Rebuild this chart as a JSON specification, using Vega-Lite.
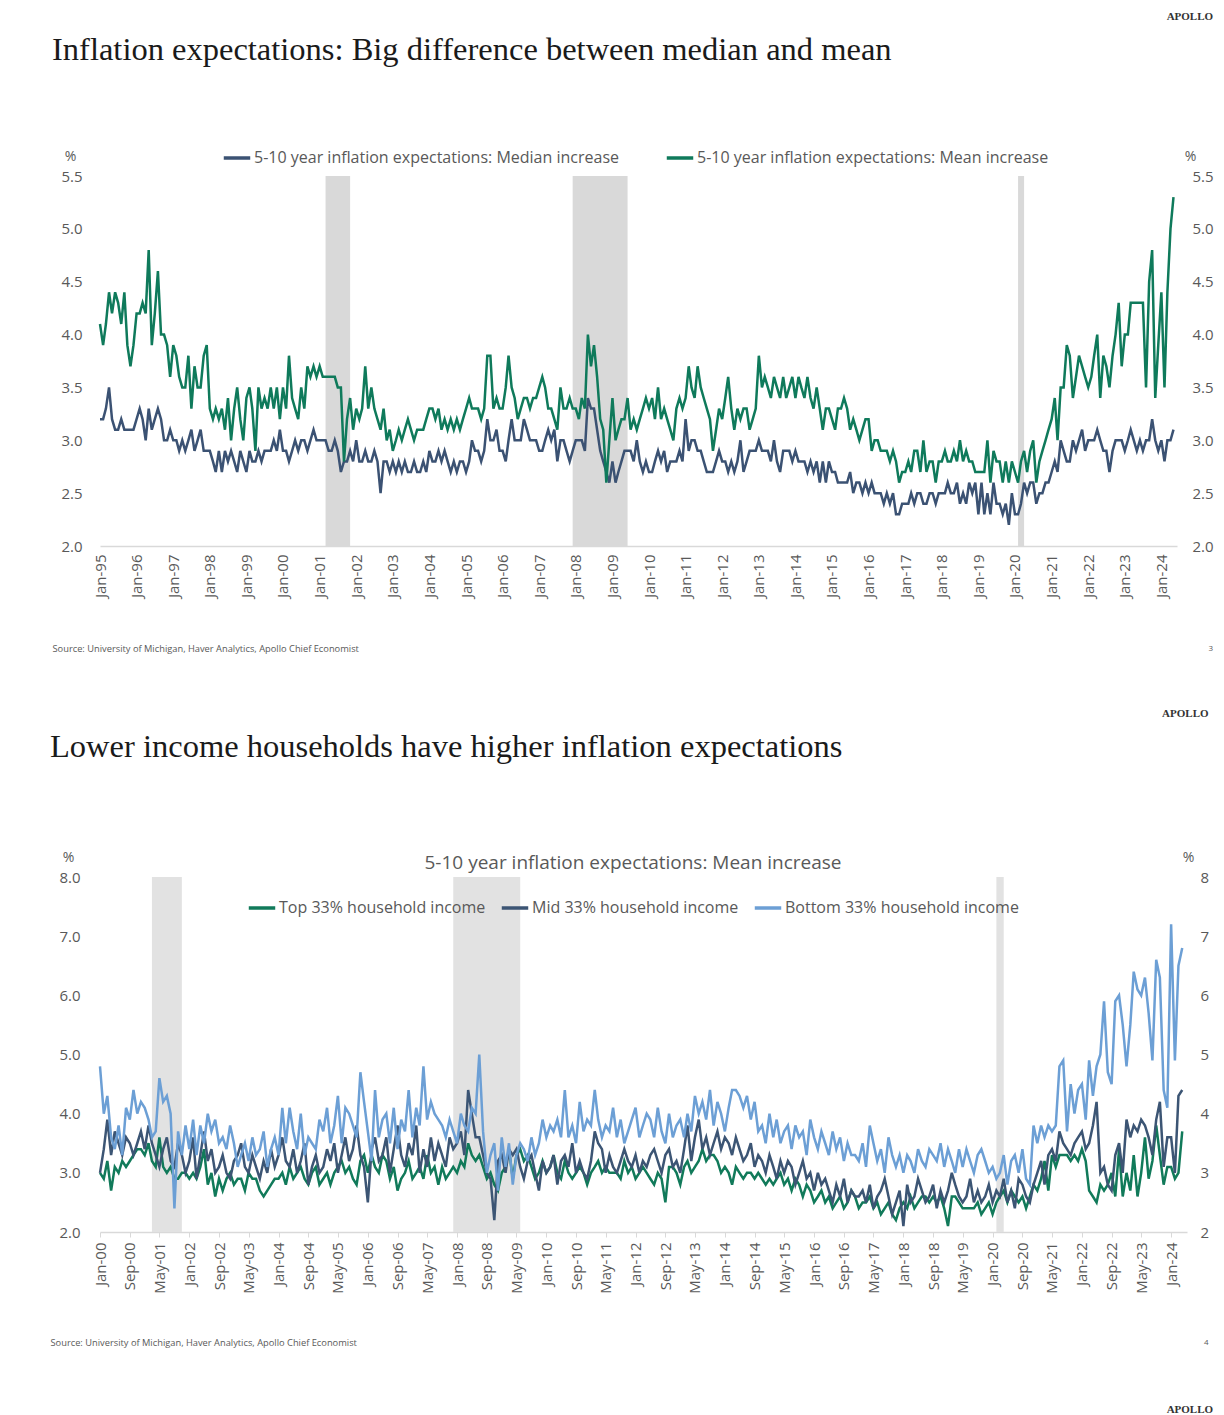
{
"$schema":"https://vega.github.io/schema/vega-lite/v6.json",
"background":"white",
"padding":{"left":50,"right":8,"top":10,"bottom":0},
"config":{
 "view":{"stroke":null},
 "font":"Open Sans",
 "axis":{"grid":false,"domain":false,"ticks":false,"tickSize":0,"labelFont":"Open Sans","labelColor":"#595959","labelFontSize":15,"titleFont":"Open Sans","titleFontWeight":"normal","titleColor":"#595959","titleFontSize":14},
 "legend":{"labelFont":"Open Sans","labelFontSize":16,"labelColor":"#595959","labelLimit":600,"symbolType":"stroke","symbolStrokeWidth":3.5,"symbolSize":700,"labelOffset":2,"orient":"none","direction":"horizontal"}
},
"resolve":{"scale":{"color":"independent","x":"independent","y":"independent"},"legend":{"color":"independent"},"axis":{"x":"independent","y":"independent"}},
"title":{"text":"APOLLO","orient":"bottom","anchor":"end","font":"Liberation Serif","fontSize":11,"fontWeight":"bold","color":"#333333","offset":57},
"datasets":{
"rec":[{"s":"2001-03","e":"2001-11"},{"s":"2007-12","e":"2009-06"},{"s":"2020-02","e":"2020-04"}],
"p1":[
{"d":"1995-01","a":3.2,"b":4.1},{"d":"1995-02","a":3.2,"b":3.9},{"d":"1995-03","a":3.3,"b":4.1},{"d":"1995-04","a":3.5,"b":4.4},{"d":"1995-05","a":3.2,"b":4.2},{"d":"1995-06","a":3.1,"b":4.4},{"d":"1995-07","a":3.1,"b":4.3},{"d":"1995-08","a":3.2,"b":4.1},{"d":"1995-09","a":3.1,"b":4.4},{"d":"1995-10","a":3.1,"b":3.9},{"d":"1995-11","a":3.1,"b":3.7},{"d":"1995-12","a":3.1,"b":3.9},
{"d":"1996-01","a":3.2,"b":4.2},{"d":"1996-02","a":3.3,"b":4.2},{"d":"1996-03","a":3.2,"b":4.3},{"d":"1996-04","a":3.0,"b":4.2},{"d":"1996-05","a":3.3,"b":4.8},{"d":"1996-06","a":3.1,"b":3.9},{"d":"1996-07","a":3.2,"b":4.2},{"d":"1996-08","a":3.3,"b":4.6},{"d":"1996-09","a":3.2,"b":4.0},{"d":"1996-10","a":3.0,"b":4.0},{"d":"1996-11","a":3.0,"b":3.9},{"d":"1996-12","a":3.1,"b":3.6},
{"d":"1997-01","a":3.0,"b":3.9},{"d":"1997-02","a":3.0,"b":3.8},{"d":"1997-03","a":2.9,"b":3.6},{"d":"1997-04","a":3.0,"b":3.5},{"d":"1997-05","a":2.9,"b":3.5},{"d":"1997-06","a":3.0,"b":3.8},{"d":"1997-07","a":3.1,"b":3.3},{"d":"1997-08","a":2.9,"b":3.7},{"d":"1997-09","a":3.0,"b":3.5},{"d":"1997-10","a":3.1,"b":3.5},{"d":"1997-11","a":2.9,"b":3.8},{"d":"1997-12","a":2.9,"b":3.9},
{"d":"1998-01","a":2.9,"b":3.3},{"d":"1998-02","a":2.8,"b":3.2},{"d":"1998-03","a":2.7,"b":3.3},{"d":"1998-04","a":2.9,"b":3.2},{"d":"1998-05","a":2.7,"b":3.3},{"d":"1998-06","a":2.9,"b":3.1},{"d":"1998-07","a":2.8,"b":3.4},{"d":"1998-08","a":2.9,"b":3.0},{"d":"1998-09","a":2.8,"b":3.3},{"d":"1998-10","a":2.7,"b":3.5},{"d":"1998-11","a":2.9,"b":3.2},{"d":"1998-12","a":2.8,"b":3.0},
{"d":"1999-01","a":2.7,"b":3.4},{"d":"1999-02","a":2.9,"b":3.5},{"d":"1999-03","a":2.8,"b":3.3},{"d":"1999-04","a":2.8,"b":2.9},{"d":"1999-05","a":2.9,"b":3.5},{"d":"1999-06","a":2.8,"b":3.3},{"d":"1999-07","a":2.9,"b":3.4},{"d":"1999-08","a":2.9,"b":3.3},{"d":"1999-09","a":2.9,"b":3.5},{"d":"1999-10","a":3.0,"b":3.3},{"d":"1999-11","a":2.9,"b":3.5},{"d":"1999-12","a":3.1,"b":3.2},
{"d":"2000-01","a":2.9,"b":3.5},{"d":"2000-02","a":2.9,"b":3.3},{"d":"2000-03","a":2.8,"b":3.8},{"d":"2000-04","a":2.9,"b":3.4},{"d":"2000-05","a":3.0,"b":3.3},{"d":"2000-06","a":2.9,"b":3.2},{"d":"2000-07","a":3.0,"b":3.5},{"d":"2000-08","a":3.0,"b":3.3},{"d":"2000-09","a":2.9,"b":3.7},{"d":"2000-10","a":3.0,"b":3.6},{"d":"2000-11","a":3.1,"b":3.7},{"d":"2000-12","a":3.0,"b":3.6},
{"d":"2001-01","a":3.0,"b":3.7},{"d":"2001-02","a":3.0,"b":3.6},{"d":"2001-03","a":3.0,"b":3.6},{"d":"2001-04","a":2.9,"b":3.6},{"d":"2001-05","a":2.9,"b":3.6},{"d":"2001-06","a":3.0,"b":3.6},{"d":"2001-07","a":2.9,"b":3.5},{"d":"2001-08","a":2.7,"b":3.5},{"d":"2001-09","a":2.8,"b":2.8},{"d":"2001-10","a":2.8,"b":3.2},{"d":"2001-11","a":2.9,"b":3.4},{"d":"2001-12","a":2.8,"b":3.1},
{"d":"2002-01","a":3.0,"b":3.3},{"d":"2002-02","a":2.8,"b":3.2},{"d":"2002-03","a":2.8,"b":3.3},{"d":"2002-04","a":2.9,"b":3.7},{"d":"2002-05","a":2.8,"b":3.3},{"d":"2002-06","a":2.8,"b":3.5},{"d":"2002-07","a":2.9,"b":3.3},{"d":"2002-08","a":2.8,"b":3.2},{"d":"2002-09","a":2.5,"b":3.1},{"d":"2002-10","a":2.8,"b":3.3},{"d":"2002-11","a":2.8,"b":3.0},{"d":"2002-12","a":2.7,"b":3.1},
{"d":"2003-01","a":2.8,"b":2.9},{"d":"2003-02","a":2.7,"b":3.0},{"d":"2003-03","a":2.8,"b":3.1},{"d":"2003-04","a":2.7,"b":3.0},{"d":"2003-05","a":2.8,"b":3.1},{"d":"2003-06","a":2.7,"b":3.2},{"d":"2003-07","a":2.7,"b":3.1},{"d":"2003-08","a":2.8,"b":3.0},{"d":"2003-09","a":2.7,"b":3.1},{"d":"2003-10","a":2.7,"b":3.1},{"d":"2003-11","a":2.8,"b":3.1},{"d":"2003-12","a":2.7,"b":3.2},
{"d":"2004-01","a":2.9,"b":3.3},{"d":"2004-02","a":2.8,"b":3.3},{"d":"2004-03","a":2.8,"b":3.2},{"d":"2004-04","a":2.9,"b":3.3},{"d":"2004-05","a":2.8,"b":3.1},{"d":"2004-06","a":2.9,"b":3.2},{"d":"2004-07","a":2.8,"b":3.1},{"d":"2004-08","a":2.7,"b":3.2},{"d":"2004-09","a":2.8,"b":3.1},{"d":"2004-10","a":2.7,"b":3.2},{"d":"2004-11","a":2.8,"b":3.1},{"d":"2004-12","a":2.8,"b":3.2},
{"d":"2005-01","a":2.7,"b":3.3},{"d":"2005-02","a":2.8,"b":3.4},{"d":"2005-03","a":3.0,"b":3.3},{"d":"2005-04","a":2.9,"b":3.3},{"d":"2005-05","a":2.9,"b":3.3},{"d":"2005-06","a":2.8,"b":3.2},{"d":"2005-07","a":2.9,"b":3.3},{"d":"2005-08","a":3.2,"b":3.8},{"d":"2005-09","a":3.0,"b":3.8},{"d":"2005-10","a":3.0,"b":3.3},{"d":"2005-11","a":3.1,"b":3.4},{"d":"2005-12","a":2.9,"b":3.3},
{"d":"2006-01","a":2.9,"b":3.3},{"d":"2006-02","a":2.8,"b":3.5},{"d":"2006-03","a":3.0,"b":3.8},{"d":"2006-04","a":3.2,"b":3.5},{"d":"2006-05","a":3.0,"b":3.4},{"d":"2006-06","a":3.0,"b":3.2},{"d":"2006-07","a":3.0,"b":3.3},{"d":"2006-08","a":3.2,"b":3.4},{"d":"2006-09","a":3.1,"b":3.4},{"d":"2006-10","a":3.0,"b":3.3},{"d":"2006-11","a":3.0,"b":3.4},{"d":"2006-12","a":3.0,"b":3.4},
{"d":"2007-01","a":2.9,"b":3.5},{"d":"2007-02","a":2.9,"b":3.6},{"d":"2007-03","a":3.0,"b":3.5},{"d":"2007-04","a":3.1,"b":3.3},{"d":"2007-05","a":3.0,"b":3.3},{"d":"2007-06","a":3.1,"b":3.2},{"d":"2007-07","a":2.8,"b":3.1},{"d":"2007-08","a":3.0,"b":3.5},{"d":"2007-09","a":3.0,"b":3.3},{"d":"2007-10","a":2.9,"b":3.3},{"d":"2007-11","a":2.8,"b":3.4},{"d":"2007-12","a":2.9,"b":3.3},
{"d":"2008-01","a":3.0,"b":3.3},{"d":"2008-02","a":3.0,"b":3.2},{"d":"2008-03","a":3.0,"b":3.4},{"d":"2008-04","a":2.9,"b":3.3},{"d":"2008-05","a":3.4,"b":4.0},{"d":"2008-06","a":3.3,"b":3.7},{"d":"2008-07","a":3.3,"b":3.9},{"d":"2008-08","a":3.1,"b":3.6},{"d":"2008-09","a":2.9,"b":3.2},{"d":"2008-10","a":2.8,"b":3.1},{"d":"2008-11","a":2.7,"b":2.6},{"d":"2008-12","a":2.6,"b":3.0},
{"d":"2009-01","a":2.8,"b":3.4},{"d":"2009-02","a":2.6,"b":3.0},{"d":"2009-03","a":2.7,"b":3.1},{"d":"2009-04","a":2.8,"b":3.2},{"d":"2009-05","a":2.9,"b":3.2},{"d":"2009-06","a":2.9,"b":3.4},{"d":"2009-07","a":2.9,"b":3.1},{"d":"2009-08","a":2.8,"b":3.2},{"d":"2009-09","a":3.0,"b":3.1},{"d":"2009-10","a":2.8,"b":3.2},{"d":"2009-11","a":2.7,"b":3.3},{"d":"2009-12","a":2.8,"b":3.4},
{"d":"2010-01","a":2.7,"b":3.3},{"d":"2010-02","a":2.7,"b":3.4},{"d":"2010-03","a":2.8,"b":3.2},{"d":"2010-04","a":2.9,"b":3.5},{"d":"2010-05","a":2.8,"b":3.2},{"d":"2010-06","a":2.9,"b":3.3},{"d":"2010-07","a":2.7,"b":3.2},{"d":"2010-08","a":2.8,"b":3.1},{"d":"2010-09","a":2.8,"b":3.0},{"d":"2010-10","a":2.8,"b":3.3},{"d":"2010-11","a":2.9,"b":3.4},{"d":"2010-12","a":2.8,"b":3.3},
{"d":"2011-01","a":3.2,"b":3.4},{"d":"2011-02","a":2.9,"b":3.7},{"d":"2011-03","a":3.0,"b":3.5},{"d":"2011-04","a":3.0,"b":3.4},{"d":"2011-05","a":2.9,"b":3.7},{"d":"2011-06","a":2.9,"b":3.5},{"d":"2011-07","a":2.8,"b":3.4},{"d":"2011-08","a":2.7,"b":3.3},{"d":"2011-09","a":2.7,"b":3.2},{"d":"2011-10","a":2.7,"b":2.9},{"d":"2011-11","a":2.8,"b":3.1},{"d":"2011-12","a":2.9,"b":3.3},
{"d":"2012-01","a":2.8,"b":3.2},{"d":"2012-02","a":2.8,"b":3.4},{"d":"2012-03","a":2.7,"b":3.6},{"d":"2012-04","a":2.8,"b":3.3},{"d":"2012-05","a":2.7,"b":3.1},{"d":"2012-06","a":2.8,"b":3.3},{"d":"2012-07","a":3.0,"b":3.2},{"d":"2012-08","a":2.7,"b":3.3},{"d":"2012-09","a":2.8,"b":3.3},{"d":"2012-10","a":2.9,"b":3.1},{"d":"2012-11","a":2.9,"b":3.2},{"d":"2012-12","a":2.9,"b":3.3},
{"d":"2013-01","a":3.0,"b":3.8},{"d":"2013-02","a":2.9,"b":3.5},{"d":"2013-03","a":2.9,"b":3.6},{"d":"2013-04","a":2.9,"b":3.5},{"d":"2013-05","a":2.8,"b":3.4},{"d":"2013-06","a":3.0,"b":3.6},{"d":"2013-07","a":2.8,"b":3.5},{"d":"2013-08","a":2.7,"b":3.4},{"d":"2013-09","a":2.9,"b":3.6},{"d":"2013-10","a":2.9,"b":3.4},{"d":"2013-11","a":2.9,"b":3.5},{"d":"2013-12","a":2.8,"b":3.6},
{"d":"2014-01","a":2.9,"b":3.4},{"d":"2014-02","a":2.8,"b":3.6},{"d":"2014-03","a":2.8,"b":3.5},{"d":"2014-04","a":2.8,"b":3.4},{"d":"2014-05","a":2.7,"b":3.6},{"d":"2014-06","a":2.8,"b":3.4},{"d":"2014-07","a":2.7,"b":3.3},{"d":"2014-08","a":2.8,"b":3.5},{"d":"2014-09","a":2.6,"b":3.3},{"d":"2014-10","a":2.8,"b":3.1},{"d":"2014-11","a":2.6,"b":3.3},{"d":"2014-12","a":2.8,"b":3.3},
{"d":"2015-01","a":2.7,"b":3.2},{"d":"2015-02","a":2.7,"b":3.1},{"d":"2015-03","a":2.6,"b":3.3},{"d":"2015-04","a":2.6,"b":3.3},{"d":"2015-05","a":2.6,"b":3.4},{"d":"2015-06","a":2.6,"b":3.3},{"d":"2015-07","a":2.7,"b":3.1},{"d":"2015-08","a":2.5,"b":3.2},{"d":"2015-09","a":2.6,"b":3.1},{"d":"2015-10","a":2.6,"b":3.0},{"d":"2015-11","a":2.5,"b":3.1},{"d":"2015-12","a":2.6,"b":3.2},
{"d":"2016-01","a":2.5,"b":3.2},{"d":"2016-02","a":2.6,"b":2.9},{"d":"2016-03","a":2.5,"b":3.0},{"d":"2016-04","a":2.5,"b":3.0},{"d":"2016-05","a":2.5,"b":2.9},{"d":"2016-06","a":2.4,"b":2.9},{"d":"2016-07","a":2.5,"b":2.9},{"d":"2016-08","a":2.4,"b":2.8},{"d":"2016-09","a":2.5,"b":2.9},{"d":"2016-10","a":2.3,"b":2.8},{"d":"2016-11","a":2.3,"b":2.6},{"d":"2016-12","a":2.4,"b":2.7},
{"d":"2017-01","a":2.4,"b":2.7},{"d":"2017-02","a":2.4,"b":2.8},{"d":"2017-03","a":2.5,"b":2.7},{"d":"2017-04","a":2.4,"b":2.9},{"d":"2017-05","a":2.5,"b":2.9},{"d":"2017-06","a":2.5,"b":2.7},{"d":"2017-07","a":2.4,"b":3.0},{"d":"2017-08","a":2.4,"b":2.7},{"d":"2017-09","a":2.5,"b":2.8},{"d":"2017-10","a":2.5,"b":2.8},{"d":"2017-11","a":2.4,"b":2.6},{"d":"2017-12","a":2.5,"b":2.8},
{"d":"2018-01","a":2.5,"b":2.8},{"d":"2018-02","a":2.5,"b":2.9},{"d":"2018-03","a":2.6,"b":2.8},{"d":"2018-04","a":2.5,"b":2.8},{"d":"2018-05","a":2.5,"b":2.9},{"d":"2018-06","a":2.6,"b":2.8},{"d":"2018-07","a":2.4,"b":3.0},{"d":"2018-08","a":2.5,"b":2.8},{"d":"2018-09","a":2.4,"b":2.9},{"d":"2018-10","a":2.6,"b":2.8},{"d":"2018-11","a":2.5,"b":2.8},{"d":"2018-12","a":2.6,"b":2.7},
{"d":"2019-01","a":2.3,"b":2.7},{"d":"2019-02","a":2.6,"b":2.7},{"d":"2019-03","a":2.3,"b":2.7},{"d":"2019-04","a":2.5,"b":3.0},{"d":"2019-05","a":2.3,"b":2.6},{"d":"2019-06","a":2.6,"b":2.9},{"d":"2019-07","a":2.4,"b":2.8},{"d":"2019-08","a":2.4,"b":2.8},{"d":"2019-09","a":2.3,"b":2.6},{"d":"2019-10","a":2.4,"b":2.8},{"d":"2019-11","a":2.2,"b":2.6},{"d":"2019-12","a":2.5,"b":2.8},
{"d":"2020-01","a":2.3,"b":2.7},{"d":"2020-02","a":2.3,"b":2.6},{"d":"2020-03","a":2.4,"b":2.8},{"d":"2020-04","a":2.6,"b":2.9},{"d":"2020-05","a":2.5,"b":2.7},{"d":"2020-06","a":2.6,"b":2.9},{"d":"2020-07","a":2.6,"b":3.0},{"d":"2020-08","a":2.4,"b":2.6},{"d":"2020-09","a":2.5,"b":2.8},{"d":"2020-10","a":2.5,"b":2.9},{"d":"2020-11","a":2.6,"b":3.0},{"d":"2020-12","a":2.6,"b":3.1},
{"d":"2021-01","a":2.7,"b":3.2},{"d":"2021-02","a":2.8,"b":3.4},{"d":"2021-03","a":2.7,"b":3.0},{"d":"2021-04","a":3.0,"b":3.5},{"d":"2021-05","a":2.9,"b":3.5},{"d":"2021-06","a":2.8,"b":3.9},{"d":"2021-07","a":2.8,"b":3.8},{"d":"2021-08","a":3.0,"b":3.4},{"d":"2021-09","a":2.9,"b":3.6},{"d":"2021-10","a":3.0,"b":3.8},{"d":"2021-11","a":3.1,"b":3.7},{"d":"2021-12","a":2.9,"b":3.6},
{"d":"2022-01","a":3.0,"b":3.5},{"d":"2022-02","a":3.0,"b":3.6},{"d":"2022-03","a":3.0,"b":3.8},{"d":"2022-04","a":3.1,"b":4.0},{"d":"2022-05","a":3.0,"b":3.4},{"d":"2022-06","a":2.9,"b":3.8},{"d":"2022-07","a":2.9,"b":3.7},{"d":"2022-08","a":2.7,"b":3.5},{"d":"2022-09","a":2.9,"b":3.8},{"d":"2022-10","a":3.0,"b":4.0},{"d":"2022-11","a":3.0,"b":4.3},{"d":"2022-12","a":3.0,"b":3.7},
{"d":"2023-01","a":2.9,"b":4.0},{"d":"2023-02","a":3.0,"b":4.0},{"d":"2023-03","a":3.1,"b":4.3},{"d":"2023-04","a":3.0,"b":4.3},{"d":"2023-05","a":2.9,"b":4.3},{"d":"2023-06","a":3.0,"b":4.3},{"d":"2023-07","a":2.9,"b":4.3},{"d":"2023-08","a":3.0,"b":3.5},{"d":"2023-09","a":3.0,"b":4.5},{"d":"2023-10","a":3.2,"b":4.8},{"d":"2023-11","a":3.0,"b":3.4},{"d":"2023-12","a":2.9,"b":3.9},
{"d":"2024-01","a":3.0,"b":4.4},{"d":"2024-02","a":2.8,"b":3.5},{"d":"2024-03","a":3.0,"b":4.4},{"d":"2024-04","a":3.0,"b":5.0},{"d":"2024-05","a":3.1,"b":5.3}
],
"p2":[
{"d":"2000-01","t":3.0,"m":3.0,"b":4.8},{"d":"2000-02","t":2.9,"m":3.4,"b":4.0},{"d":"2000-03","t":3.2,"m":3.9,"b":4.3},{"d":"2000-04","t":2.7,"m":3.3,"b":3.6},{"d":"2000-05","t":3.1,"m":3.7,"b":3.4},{"d":"2000-06","t":3.0,"m":3.5,"b":3.8},{"d":"2000-07","t":3.2,"m":3.3,"b":3.3},{"d":"2000-08","t":3.1,"m":3.6,"b":4.1},{"d":"2000-09","t":3.2,"m":3.5,"b":3.9},{"d":"2000-10","t":3.3,"m":3.3,"b":4.4},{"d":"2000-11","t":3.4,"m":3.5,"b":4.0},{"d":"2000-12","t":3.4,"m":3.7,"b":4.2},
{"d":"2001-01","t":3.3,"m":3.4,"b":4.1},{"d":"2001-02","t":3.5,"m":3.8,"b":3.9},{"d":"2001-03","t":3.2,"m":3.5,"b":3.6},{"d":"2001-04","t":3.1,"m":3.3,"b":3.7},{"d":"2001-05","t":3.6,"m":3.1,"b":4.6},{"d":"2001-06","t":3.1,"m":3.4,"b":4.2},{"d":"2001-07","t":3.0,"m":3.6,"b":4.3},{"d":"2001-08","t":3.1,"m":3.2,"b":4.0},{"d":"2001-09","t":2.9,"m":3.1,"b":2.4},{"d":"2001-10","t":2.9,"m":3.5,"b":3.7},{"d":"2001-11","t":3.0,"m":3.3,"b":3.3},{"d":"2001-12","t":3.0,"m":3.0,"b":3.8},
{"d":"2002-01","t":2.9,"m":3.2,"b":3.4},{"d":"2002-02","t":3.0,"m":3.6,"b":3.9},{"d":"2002-03","t":2.9,"m":2.9,"b":3.3},{"d":"2002-04","t":3.1,"m":3.3,"b":3.8},{"d":"2002-05","t":3.4,"m":3.7,"b":3.5},{"d":"2002-06","t":2.8,"m":3.2,"b":4.0},{"d":"2002-07","t":3.0,"m":3.4,"b":3.7},{"d":"2002-08","t":2.6,"m":3.0,"b":3.9},{"d":"2002-09","t":2.9,"m":3.1,"b":3.5},{"d":"2002-10","t":2.7,"m":3.3,"b":3.6},{"d":"2002-11","t":2.9,"m":3.0,"b":3.4},{"d":"2002-12","t":3.0,"m":2.9,"b":3.8},
{"d":"2003-01","t":2.8,"m":3.2,"b":3.5},{"d":"2003-02","t":2.9,"m":3.3,"b":3.1},{"d":"2003-03","t":2.9,"m":3.5,"b":3.3},{"d":"2003-04","t":2.7,"m":3.1,"b":3.5},{"d":"2003-05","t":3.0,"m":3.0,"b":3.2},{"d":"2003-06","t":2.9,"m":3.3,"b":3.6},{"d":"2003-07","t":2.9,"m":3.1,"b":3.3},{"d":"2003-08","t":2.7,"m":2.9,"b":3.4},{"d":"2003-09","t":2.6,"m":3.2,"b":3.7},{"d":"2003-10","t":2.7,"m":3.0,"b":3.1},{"d":"2003-11","t":2.8,"m":3.4,"b":3.4},{"d":"2003-12","t":2.9,"m":3.1,"b":3.6},
{"d":"2004-01","t":2.9,"m":3.3,"b":3.3},{"d":"2004-02","t":3.0,"m":3.6,"b":4.1},{"d":"2004-03","t":2.8,"m":3.2,"b":3.5},{"d":"2004-04","t":3.1,"m":3.1,"b":4.1},{"d":"2004-05","t":2.9,"m":3.4,"b":3.7},{"d":"2004-06","t":3.0,"m":3.0,"b":3.4},{"d":"2004-07","t":3.1,"m":3.2,"b":4.0},{"d":"2004-08","t":2.9,"m":3.5,"b":3.3},{"d":"2004-09","t":2.8,"m":2.8,"b":3.6},{"d":"2004-10","t":3.0,"m":3.1,"b":3.5},{"d":"2004-11","t":3.1,"m":3.3,"b":3.4},{"d":"2004-12","t":2.8,"m":3.0,"b":3.9},
{"d":"2005-01","t":2.9,"m":3.1,"b":3.7},{"d":"2005-02","t":3.0,"m":3.4,"b":4.1},{"d":"2005-03","t":2.8,"m":3.2,"b":3.5},{"d":"2005-04","t":3.0,"m":3.5,"b":3.8},{"d":"2005-05","t":3.1,"m":3.0,"b":4.3},{"d":"2005-06","t":3.2,"m":3.3,"b":3.5},{"d":"2005-07","t":3.0,"m":3.6,"b":4.1},{"d":"2005-08","t":3.1,"m":3.2,"b":4.0},{"d":"2005-09","t":2.9,"m":3.4,"b":3.8},{"d":"2005-10","t":2.8,"m":3.8,"b":3.6},{"d":"2005-11","t":3.2,"m":3.3,"b":4.7},{"d":"2005-12","t":3.3,"m":3.1,"b":4.2},
{"d":"2006-01","t":3.0,"m":2.5,"b":3.7},{"d":"2006-02","t":3.3,"m":3.4,"b":3.2},{"d":"2006-03","t":3.1,"m":3.6,"b":4.4},{"d":"2006-04","t":3.0,"m":3.2,"b":3.6},{"d":"2006-05","t":3.3,"m":3.3,"b":3.9},{"d":"2006-06","t":3.2,"m":3.6,"b":4.0},{"d":"2006-07","t":2.9,"m":3.0,"b":3.5},{"d":"2006-08","t":3.1,"m":3.4,"b":4.1},{"d":"2006-09","t":2.7,"m":3.8,"b":3.4},{"d":"2006-10","t":2.9,"m":3.3,"b":3.9},{"d":"2006-11","t":3.0,"m":3.1,"b":3.7},{"d":"2006-12","t":3.2,"m":3.5,"b":4.4},
{"d":"2007-01","t":2.9,"m":3.3,"b":3.6},{"d":"2007-02","t":3.0,"m":3.8,"b":4.1},{"d":"2007-03","t":3.1,"m":3.0,"b":3.8},{"d":"2007-04","t":2.9,"m":3.4,"b":4.8},{"d":"2007-05","t":3.3,"m":3.1,"b":3.9},{"d":"2007-06","t":3.0,"m":3.6,"b":4.2},{"d":"2007-07","t":3.1,"m":3.2,"b":4.0},{"d":"2007-08","t":2.8,"m":3.5,"b":3.9},{"d":"2007-09","t":3.1,"m":3.3,"b":3.8},{"d":"2007-10","t":2.9,"m":3.1,"b":3.6},{"d":"2007-11","t":3.0,"m":3.6,"b":3.9},{"d":"2007-12","t":3.1,"m":3.4,"b":3.7},
{"d":"2008-01","t":3.0,"m":3.5,"b":3.5},{"d":"2008-02","t":3.2,"m":3.7,"b":4.0},{"d":"2008-03","t":3.1,"m":3.3,"b":3.8},{"d":"2008-04","t":3.5,"m":4.4,"b":3.7},{"d":"2008-05","t":3.3,"m":4.0,"b":4.1},{"d":"2008-06","t":3.2,"m":3.6,"b":4.0},{"d":"2008-07","t":3.3,"m":3.6,"b":5.0},{"d":"2008-08","t":3.1,"m":3.3,"b":3.7},{"d":"2008-09","t":2.9,"m":3.0,"b":3.0},{"d":"2008-10","t":3.0,"m":2.9,"b":3.3},{"d":"2008-11","t":2.8,"m":2.2,"b":3.5},{"d":"2008-12","t":2.7,"m":3.2,"b":2.7},
{"d":"2009-01","t":3.0,"m":3.3,"b":3.6},{"d":"2009-02","t":3.1,"m":3.0,"b":3.1},{"d":"2009-03","t":3.4,"m":3.4,"b":3.5},{"d":"2009-04","t":2.9,"m":3.3,"b":2.8},{"d":"2009-05","t":3.3,"m":3.4,"b":3.3},{"d":"2009-06","t":3.4,"m":3.1,"b":3.5},{"d":"2009-07","t":3.2,"m":2.9,"b":3.4},{"d":"2009-08","t":3.3,"m":3.2,"b":3.2},{"d":"2009-09","t":3.1,"m":3.3,"b":3.6},{"d":"2009-10","t":2.9,"m":3.0,"b":3.3},{"d":"2009-11","t":3.0,"m":2.7,"b":3.5},{"d":"2009-12","t":3.2,"m":3.2,"b":3.9},
{"d":"2010-01","t":3.0,"m":3.0,"b":3.6},{"d":"2010-02","t":3.1,"m":3.1,"b":3.8},{"d":"2010-03","t":3.3,"m":3.3,"b":3.7},{"d":"2010-04","t":3.0,"m":2.8,"b":3.9},{"d":"2010-05","t":2.9,"m":3.2,"b":3.6},{"d":"2010-06","t":3.2,"m":3.3,"b":4.4},{"d":"2010-07","t":3.0,"m":3.1,"b":3.6},{"d":"2010-08","t":2.9,"m":3.5,"b":3.8},{"d":"2010-09","t":3.0,"m":3.0,"b":3.5},{"d":"2010-10","t":3.1,"m":3.2,"b":4.2},{"d":"2010-11","t":3.0,"m":3.0,"b":3.7},{"d":"2010-12","t":2.8,"m":2.9,"b":3.9},
{"d":"2011-01","t":3.0,"m":3.2,"b":3.8},{"d":"2011-02","t":3.1,"m":3.7,"b":4.4},{"d":"2011-03","t":3.2,"m":3.5,"b":3.9},{"d":"2011-04","t":3.0,"m":3.4,"b":3.6},{"d":"2011-05","t":3.1,"m":3.0,"b":3.8},{"d":"2011-06","t":3.0,"m":3.3,"b":3.7},{"d":"2011-07","t":3.0,"m":3.1,"b":4.1},{"d":"2011-08","t":3.0,"m":3.0,"b":3.6},{"d":"2011-09","t":2.9,"m":3.2,"b":3.9},{"d":"2011-10","t":3.2,"m":3.4,"b":3.5},{"d":"2011-11","t":3.0,"m":3.2,"b":3.7},{"d":"2011-12","t":3.1,"m":3.1,"b":3.9},
{"d":"2012-01","t":2.9,"m":3.3,"b":4.1},{"d":"2012-02","t":3.0,"m":3.0,"b":3.6},{"d":"2012-03","t":3.1,"m":3.2,"b":3.8},{"d":"2012-04","t":3.0,"m":3.1,"b":4.0},{"d":"2012-05","t":2.9,"m":3.3,"b":3.9},{"d":"2012-06","t":2.8,"m":3.4,"b":3.6},{"d":"2012-07","t":3.0,"m":3.2,"b":4.1},{"d":"2012-08","t":2.9,"m":3.0,"b":3.7},{"d":"2012-09","t":2.5,"m":3.3,"b":3.5},{"d":"2012-10","t":3.1,"m":3.4,"b":4.0},{"d":"2012-11","t":3.1,"m":3.1,"b":3.6},{"d":"2012-12","t":3.0,"m":3.2,"b":3.8},
{"d":"2013-01","t":2.8,"m":3.0,"b":3.9},{"d":"2013-02","t":3.1,"m":3.4,"b":3.6},{"d":"2013-03","t":3.2,"m":3.8,"b":4.0},{"d":"2013-04","t":3.0,"m":3.2,"b":3.7},{"d":"2013-05","t":3.1,"m":3.6,"b":4.3},{"d":"2013-06","t":3.2,"m":3.9,"b":4.0},{"d":"2013-07","t":3.4,"m":3.4,"b":4.2},{"d":"2013-08","t":3.2,"m":3.6,"b":3.9},{"d":"2013-09","t":3.3,"m":3.3,"b":4.4},{"d":"2013-10","t":3.3,"m":3.5,"b":3.8},{"d":"2013-11","t":3.2,"m":3.7,"b":4.2},{"d":"2013-12","t":3.0,"m":3.4,"b":4.0},
{"d":"2014-01","t":3.1,"m":3.6,"b":3.7},{"d":"2014-02","t":3.0,"m":3.5,"b":4.1},{"d":"2014-03","t":2.8,"m":3.3,"b":4.4},{"d":"2014-04","t":3.1,"m":3.6,"b":4.4},{"d":"2014-05","t":3.0,"m":3.4,"b":4.3},{"d":"2014-06","t":2.9,"m":3.2,"b":4.1},{"d":"2014-07","t":3.0,"m":3.3,"b":4.3},{"d":"2014-08","t":3.0,"m":3.5,"b":3.9},{"d":"2014-09","t":2.9,"m":3.1,"b":4.2},{"d":"2014-10","t":3.0,"m":3.3,"b":3.7},{"d":"2014-11","t":2.9,"m":3.2,"b":3.8},{"d":"2014-12","t":2.8,"m":3.0,"b":3.5},
{"d":"2015-01","t":2.9,"m":3.3,"b":4.0},{"d":"2015-02","t":2.8,"m":3.1,"b":3.6},{"d":"2015-03","t":2.9,"m":2.9,"b":3.9},{"d":"2015-04","t":3.0,"m":3.2,"b":3.5},{"d":"2015-05","t":2.8,"m":3.0,"b":3.7},{"d":"2015-06","t":2.9,"m":3.2,"b":3.8},{"d":"2015-07","t":2.7,"m":3.1,"b":3.4},{"d":"2015-08","t":2.9,"m":2.8,"b":3.8},{"d":"2015-09","t":2.8,"m":3.0,"b":3.6},{"d":"2015-10","t":2.6,"m":3.2,"b":3.7},{"d":"2015-11","t":2.8,"m":2.9,"b":3.3},{"d":"2015-12","t":2.7,"m":3.0,"b":3.9},
{"d":"2016-01","t":2.5,"m":2.7,"b":3.6},{"d":"2016-02","t":2.6,"m":3.0,"b":3.4},{"d":"2016-03","t":2.7,"m":2.8,"b":3.7},{"d":"2016-04","t":2.5,"m":2.9,"b":3.5},{"d":"2016-05","t":2.6,"m":2.7,"b":3.3},{"d":"2016-06","t":2.4,"m":2.5,"b":3.7},{"d":"2016-07","t":2.5,"m":2.8,"b":3.4},{"d":"2016-08","t":2.6,"m":2.6,"b":3.6},{"d":"2016-09","t":2.4,"m":2.9,"b":3.2},{"d":"2016-10","t":2.5,"m":2.5,"b":3.5},{"d":"2016-11","t":2.7,"m":2.7,"b":3.3},{"d":"2016-12","t":2.6,"m":2.6,"b":3.3},
{"d":"2017-01","t":2.4,"m":2.6,"b":3.2},{"d":"2017-02","t":2.5,"m":2.7,"b":3.5},{"d":"2017-03","t":2.5,"m":2.5,"b":3.1},{"d":"2017-04","t":2.6,"m":2.8,"b":3.8},{"d":"2017-05","t":2.4,"m":2.4,"b":3.5},{"d":"2017-06","t":2.5,"m":2.6,"b":3.2},{"d":"2017-07","t":2.3,"m":2.7,"b":3.4},{"d":"2017-08","t":2.4,"m":2.9,"b":3.0},{"d":"2017-09","t":2.5,"m":2.6,"b":3.6},{"d":"2017-10","t":2.3,"m":2.3,"b":3.3},{"d":"2017-11","t":2.2,"m":2.5,"b":3.1},{"d":"2017-12","t":2.4,"m":2.7,"b":3.3},
{"d":"2018-01","t":2.5,"m":2.1,"b":3.0},{"d":"2018-02","t":2.4,"m":2.8,"b":3.3},{"d":"2018-03","t":2.6,"m":2.5,"b":3.2},{"d":"2018-04","t":2.4,"m":2.6,"b":3.0},{"d":"2018-05","t":2.5,"m":2.9,"b":3.4},{"d":"2018-06","t":2.6,"m":2.7,"b":3.2},{"d":"2018-07","t":2.6,"m":2.5,"b":3.1},{"d":"2018-08","t":2.5,"m":2.6,"b":3.4},{"d":"2018-09","t":2.6,"m":2.8,"b":3.3},{"d":"2018-10","t":2.5,"m":2.4,"b":3.2},{"d":"2018-11","t":2.6,"m":2.7,"b":3.5},{"d":"2018-12","t":2.4,"m":2.5,"b":3.1},
{"d":"2019-01","t":2.1,"m":2.7,"b":3.4},{"d":"2019-02","t":2.6,"m":3.0,"b":3.2},{"d":"2019-03","t":2.6,"m":2.8,"b":3.0},{"d":"2019-04","t":2.5,"m":2.6,"b":3.4},{"d":"2019-05","t":2.4,"m":2.5,"b":3.1},{"d":"2019-06","t":2.4,"m":2.6,"b":3.4},{"d":"2019-07","t":2.4,"m":2.9,"b":3.2},{"d":"2019-08","t":2.4,"m":2.5,"b":3.0},{"d":"2019-09","t":2.5,"m":2.7,"b":3.3},{"d":"2019-10","t":2.3,"m":2.5,"b":3.4},{"d":"2019-11","t":2.4,"m":2.6,"b":3.2},{"d":"2019-12","t":2.5,"m":2.8,"b":3.0},
{"d":"2020-01","t":2.3,"m":2.5,"b":3.1},{"d":"2020-02","t":2.5,"m":2.7,"b":2.9},{"d":"2020-03","t":2.6,"m":2.6,"b":3.0},{"d":"2020-04","t":2.7,"m":2.9,"b":3.3},{"d":"2020-05","t":2.5,"m":2.5,"b":2.8},{"d":"2020-06","t":2.7,"m":2.7,"b":3.2},{"d":"2020-07","t":2.6,"m":2.4,"b":3.3},{"d":"2020-08","t":2.5,"m":2.9,"b":3.0},{"d":"2020-09","t":2.6,"m":2.8,"b":3.4},{"d":"2020-10","t":2.4,"m":2.6,"b":2.9},{"d":"2020-11","t":2.6,"m":2.5,"b":2.8},{"d":"2020-12","t":2.8,"m":2.8,"b":3.8},
{"d":"2021-01","t":2.7,"m":3.0,"b":3.5},{"d":"2021-02","t":2.9,"m":3.2,"b":3.8},{"d":"2021-03","t":3.2,"m":2.8,"b":3.6},{"d":"2021-04","t":2.7,"m":3.3,"b":3.8},{"d":"2021-05","t":3.3,"m":3.4,"b":3.7},{"d":"2021-06","t":3.1,"m":3.2,"b":3.8},{"d":"2021-07","t":3.3,"m":3.7,"b":4.8},{"d":"2021-08","t":3.3,"m":3.5,"b":4.9},{"d":"2021-09","t":3.3,"m":3.4,"b":3.7},{"d":"2021-10","t":3.2,"m":3.3,"b":4.5},{"d":"2021-11","t":3.3,"m":3.5,"b":4.0},{"d":"2021-12","t":3.2,"m":3.6,"b":4.4},
{"d":"2022-01","t":3.4,"m":3.7,"b":4.5},{"d":"2022-02","t":3.2,"m":3.4,"b":3.9},{"d":"2022-03","t":2.7,"m":3.5,"b":4.9},{"d":"2022-04","t":2.6,"m":3.8,"b":4.3},{"d":"2022-05","t":2.5,"m":4.2,"b":4.8},{"d":"2022-06","t":2.8,"m":3.0,"b":5.0},{"d":"2022-07","t":2.7,"m":3.1,"b":5.9},{"d":"2022-08","t":2.8,"m":2.8,"b":4.7},{"d":"2022-09","t":3.0,"m":2.7,"b":4.5},{"d":"2022-10","t":2.6,"m":3.3,"b":5.9},{"d":"2022-11","t":3.4,"m":3.5,"b":6.0},{"d":"2022-12","t":2.6,"m":3.0,"b":5.5},
{"d":"2023-01","t":3.0,"m":3.9,"b":4.8},{"d":"2023-02","t":2.7,"m":3.6,"b":5.5},{"d":"2023-03","t":3.3,"m":3.8,"b":6.4},{"d":"2023-04","t":2.6,"m":3.7,"b":6.1},{"d":"2023-05","t":3.0,"m":3.9,"b":6.0},{"d":"2023-06","t":3.6,"m":3.8,"b":6.3},{"d":"2023-07","t":2.9,"m":3.6,"b":5.7},{"d":"2023-08","t":3.2,"m":3.3,"b":4.9},{"d":"2023-09","t":3.8,"m":3.9,"b":6.6},{"d":"2023-10","t":3.3,"m":4.2,"b":6.3},{"d":"2023-11","t":2.8,"m":3.1,"b":4.4},{"d":"2023-12","t":3.1,"m":3.6,"b":4.1},
{"d":"2024-01","t":3.1,"m":3.6,"b":7.2},{"d":"2024-02","t":2.9,"m":3.0,"b":4.9},{"d":"2024-03","t":3.0,"m":4.3,"b":6.5},{"d":"2024-04","t":3.7,"m":4.4,"b":6.8}
]
},
"spacing":53,
"vconcat":[
{
 "title":{"text":"APOLLO","anchor":"end","font":"Liberation Serif","fontSize":11,"fontWeight":"bold","color":"#333333","offset":12},
 "vconcat":[{
  "title":{"text":"3","orient":"bottom","anchor":"end","font":"Open Sans","fontSize":8,"fontWeight":"normal","color":"#595959","offset":-8},
  "vconcat":[{
   "width":1077,"height":370,
   "title":{"text":"Inflation expectations: Big difference between median and mean","anchor":"start","font":"Liberation Serif","fontSize":32.5,"fontWeight":"normal","color":"#1a1a1a","offset":83},
   "layer":[
    {"data":{"name":"rec"},"mark":{"type":"rect","color":"#d9d9d9"},
     "encoding":{
      "x":{"field":"s","type":"temporal","scale":{"type":"utc","domain":[{"year":1995,"month":1,"date":1,"utc":true},{"year":2024,"month":6,"date":5,"utc":true}]},
       "axis":{"values":[{"year":1995,"month":1,"date":1,"utc":true},{"year":1996,"month":1,"date":1,"utc":true},{"year":1997,"month":1,"date":1,"utc":true},{"year":1998,"month":1,"date":1,"utc":true},{"year":1999,"month":1,"date":1,"utc":true},{"year":2000,"month":1,"date":1,"utc":true},{"year":2001,"month":1,"date":1,"utc":true},{"year":2002,"month":1,"date":1,"utc":true},{"year":2003,"month":1,"date":1,"utc":true},{"year":2004,"month":1,"date":1,"utc":true},{"year":2005,"month":1,"date":1,"utc":true},{"year":2006,"month":1,"date":1,"utc":true},{"year":2007,"month":1,"date":1,"utc":true},{"year":2008,"month":1,"date":1,"utc":true},{"year":2009,"month":1,"date":1,"utc":true},{"year":2010,"month":1,"date":1,"utc":true},{"year":2011,"month":1,"date":1,"utc":true},{"year":2012,"month":1,"date":1,"utc":true},{"year":2013,"month":1,"date":1,"utc":true},{"year":2014,"month":1,"date":1,"utc":true},{"year":2015,"month":1,"date":1,"utc":true},{"year":2016,"month":1,"date":1,"utc":true},{"year":2017,"month":1,"date":1,"utc":true},{"year":2018,"month":1,"date":1,"utc":true},{"year":2019,"month":1,"date":1,"utc":true},{"year":2020,"month":1,"date":1,"utc":true},{"year":2021,"month":1,"date":1,"utc":true},{"year":2022,"month":1,"date":1,"utc":true},{"year":2023,"month":1,"date":1,"utc":true},{"year":2024,"month":1,"date":1,"utc":true}],
        "tickCount":100,"format":"%b-%y","labelAngle":270,"labelPadding":8,"labelFontSize":15,"labelOverlap":false,"labelFlush":false,
        "domain":true,"domainColor":"#d9d9d9","domainWidth":1.5,
        "title":"Source: University of Michigan, Haver Analytics, Apollo Chief Economist","titleFontSize":9.3,"titleX":-48,"titleY":98,"titleAnchor":"start","titleAlign":"left","titleBaseline":"top"}},
      "x2":{"field":"e"}}},
    {"data":{"name":"p1"},"transform":[{"fold":["a","b"],"as":["k","v"]}],
     "mark":{"type":"line","strokeWidth":2.5},
     "encoding":{
      "x":{"field":"d","type":"temporal","scale":{"type":"utc","domain":[{"year":1995,"month":1,"date":1,"utc":true},{"year":2024,"month":6,"date":5,"utc":true}]},
       "axis":{"values":[{"year":1995,"month":1,"date":1,"utc":true},{"year":1996,"month":1,"date":1,"utc":true},{"year":1997,"month":1,"date":1,"utc":true},{"year":1998,"month":1,"date":1,"utc":true},{"year":1999,"month":1,"date":1,"utc":true},{"year":2000,"month":1,"date":1,"utc":true},{"year":2001,"month":1,"date":1,"utc":true},{"year":2002,"month":1,"date":1,"utc":true},{"year":2003,"month":1,"date":1,"utc":true},{"year":2004,"month":1,"date":1,"utc":true},{"year":2005,"month":1,"date":1,"utc":true},{"year":2006,"month":1,"date":1,"utc":true},{"year":2007,"month":1,"date":1,"utc":true},{"year":2008,"month":1,"date":1,"utc":true},{"year":2009,"month":1,"date":1,"utc":true},{"year":2010,"month":1,"date":1,"utc":true},{"year":2011,"month":1,"date":1,"utc":true},{"year":2012,"month":1,"date":1,"utc":true},{"year":2013,"month":1,"date":1,"utc":true},{"year":2014,"month":1,"date":1,"utc":true},{"year":2015,"month":1,"date":1,"utc":true},{"year":2016,"month":1,"date":1,"utc":true},{"year":2017,"month":1,"date":1,"utc":true},{"year":2018,"month":1,"date":1,"utc":true},{"year":2019,"month":1,"date":1,"utc":true},{"year":2020,"month":1,"date":1,"utc":true},{"year":2021,"month":1,"date":1,"utc":true},{"year":2022,"month":1,"date":1,"utc":true},{"year":2023,"month":1,"date":1,"utc":true},{"year":2024,"month":1,"date":1,"utc":true}],
        "tickCount":100,"format":"%b-%y","labelAngle":270,"labelPadding":8,"labelFontSize":15,"labelOverlap":false,"labelFlush":false,
        "domain":true,"domainColor":"#d9d9d9","domainWidth":1.5,
        "title":"Source: University of Michigan, Haver Analytics, Apollo Chief Economist","titleFontSize":9.3,"titleX":-48,"titleY":98,"titleAnchor":"start","titleAlign":"left","titleBaseline":"top"}},
      "y":{"field":"v","type":"quantitative","scale":{"domain":[2,5.5],"nice":false,"zero":false},
       "axis":{"orient":"left","values":[2,2.5,3,3.5,4,4.5,5,5.5],"format":".1f","labelPadding":18,"title":"%","titleAngle":0,"titleX":-30,"titleY":-20,"titleAlign":"center","titleBaseline":"middle"}},
      "color":{"field":"k","type":"nominal","scale":{"domain":["a","b"],"range":["#3b5273","#0f7a5b"]},
       "legend":{"title":null,"legendX":122,"legendY":-33,"columnPadding":40,"labelExpr":"datum.value == 'a' ? '5-10 year inflation expectations: Median increase' : '5-10 year inflation expectations: Mean increase'"}}}},
    {"data":{"name":"p1"},"transform":[{"fold":["a","b"],"as":["k","v"]}],
     "mark":{"type":"line","opacity":0},
     "encoding":{
      "x":{"field":"d","type":"temporal","scale":{"type":"utc","domain":[{"year":1995,"month":1,"date":1,"utc":true},{"year":2024,"month":6,"date":5,"utc":true}]}},
      "y":{"field":"v","type":"quantitative","scale":{"domain":[2,5.5],"nice":false,"zero":false},
       "axis":{"orient":"right","values":[2,2.5,3,3.5,4,4.5,5,5.5],"format":".1f","labelPadding":15,"title":"%","titleAngle":0,"titleX":13,"titleY":-20,"titleAlign":"center","titleBaseline":"middle"}},
      "detail":{"field":"k"}}}
   ],
   "resolve":{"axis":{"y":"independent"}}
  }]
 }]
},
{
 "title":{"text":"APOLLO","anchor":"end","font":"Liberation Serif","fontSize":11,"fontWeight":"bold","color":"#333333","offset":12},
 "vconcat":[{
  "title":{"text":"4","orient":"bottom","anchor":"end","font":"Open Sans","fontSize":8,"fontWeight":"normal","color":"#595959","offset":-8},
  "vconcat":[{
   "width":1087,"height":355,
   "title":{"text":"Lower income households have higher inflation expectations","anchor":"start","font":"Liberation Serif","fontSize":32.5,"fontWeight":"normal","color":"#1a1a1a","offset":87},
   "layer":[
    {"data":{"name":"rec"},"mark":{"type":"rect","color":"#e2e2e2"},
     "encoding":{
      "x":{"field":"s","type":"temporal","scale":{"type":"utc","domain":[{"year":2000,"month":1,"date":1,"utc":true},{"year":2024,"month":5,"date":10,"utc":true}]},
       "axis":{"values":[{"year":2000,"month":1,"date":1,"utc":true},{"year":2000,"month":9,"date":1,"utc":true},{"year":2001,"month":5,"date":1,"utc":true},{"year":2002,"month":1,"date":1,"utc":true},{"year":2002,"month":9,"date":1,"utc":true},{"year":2003,"month":5,"date":1,"utc":true},{"year":2004,"month":1,"date":1,"utc":true},{"year":2004,"month":9,"date":1,"utc":true},{"year":2005,"month":5,"date":1,"utc":true},{"year":2006,"month":1,"date":1,"utc":true},{"year":2006,"month":9,"date":1,"utc":true},{"year":2007,"month":5,"date":1,"utc":true},{"year":2008,"month":1,"date":1,"utc":true},{"year":2008,"month":9,"date":1,"utc":true},{"year":2009,"month":5,"date":1,"utc":true},{"year":2010,"month":1,"date":1,"utc":true},{"year":2010,"month":9,"date":1,"utc":true},{"year":2011,"month":5,"date":1,"utc":true},{"year":2012,"month":1,"date":1,"utc":true},{"year":2012,"month":9,"date":1,"utc":true},{"year":2013,"month":5,"date":1,"utc":true},{"year":2014,"month":1,"date":1,"utc":true},{"year":2014,"month":9,"date":1,"utc":true},{"year":2015,"month":5,"date":1,"utc":true},{"year":2016,"month":1,"date":1,"utc":true},{"year":2016,"month":9,"date":1,"utc":true},{"year":2017,"month":5,"date":1,"utc":true},{"year":2018,"month":1,"date":1,"utc":true},{"year":2018,"month":9,"date":1,"utc":true},{"year":2019,"month":5,"date":1,"utc":true},{"year":2020,"month":1,"date":1,"utc":true},{"year":2020,"month":9,"date":1,"utc":true},{"year":2021,"month":5,"date":1,"utc":true},{"year":2022,"month":1,"date":1,"utc":true},{"year":2022,"month":9,"date":1,"utc":true},{"year":2023,"month":5,"date":1,"utc":true},{"year":2024,"month":1,"date":1,"utc":true}],
        "tickCount":100,"format":"%b-%y","labelAngle":270,"labelPadding":5,"labelFontSize":15,"labelOverlap":false,"labelFlush":false,
        "domain":true,"domainColor":"#d9d9d9","domainWidth":1.5,"ticks":true,"tickSize":5,"tickColor":"#d9d9d9",
        "title":"Source: University of Michigan, Haver Analytics, Apollo Chief Economist","titleFontSize":9.3,"titleX":-50,"titleY":106,"titleAnchor":"start","titleAlign":"left","titleBaseline":"top"}},
      "x2":{"field":"e"}}},
    {"data":{"name":"p2"},"transform":[{"fold":["t","m","b"],"as":["k","v"]}],
     "mark":{"type":"line","strokeWidth":2.5},
     "encoding":{
      "x":{"field":"d","type":"temporal","scale":{"type":"utc","domain":[{"year":2000,"month":1,"date":1,"utc":true},{"year":2024,"month":5,"date":10,"utc":true}]},
       "axis":{"values":[{"year":2000,"month":1,"date":1,"utc":true},{"year":2000,"month":9,"date":1,"utc":true},{"year":2001,"month":5,"date":1,"utc":true},{"year":2002,"month":1,"date":1,"utc":true},{"year":2002,"month":9,"date":1,"utc":true},{"year":2003,"month":5,"date":1,"utc":true},{"year":2004,"month":1,"date":1,"utc":true},{"year":2004,"month":9,"date":1,"utc":true},{"year":2005,"month":5,"date":1,"utc":true},{"year":2006,"month":1,"date":1,"utc":true},{"year":2006,"month":9,"date":1,"utc":true},{"year":2007,"month":5,"date":1,"utc":true},{"year":2008,"month":1,"date":1,"utc":true},{"year":2008,"month":9,"date":1,"utc":true},{"year":2009,"month":5,"date":1,"utc":true},{"year":2010,"month":1,"date":1,"utc":true},{"year":2010,"month":9,"date":1,"utc":true},{"year":2011,"month":5,"date":1,"utc":true},{"year":2012,"month":1,"date":1,"utc":true},{"year":2012,"month":9,"date":1,"utc":true},{"year":2013,"month":5,"date":1,"utc":true},{"year":2014,"month":1,"date":1,"utc":true},{"year":2014,"month":9,"date":1,"utc":true},{"year":2015,"month":5,"date":1,"utc":true},{"year":2016,"month":1,"date":1,"utc":true},{"year":2016,"month":9,"date":1,"utc":true},{"year":2017,"month":5,"date":1,"utc":true},{"year":2018,"month":1,"date":1,"utc":true},{"year":2018,"month":9,"date":1,"utc":true},{"year":2019,"month":5,"date":1,"utc":true},{"year":2020,"month":1,"date":1,"utc":true},{"year":2020,"month":9,"date":1,"utc":true},{"year":2021,"month":5,"date":1,"utc":true},{"year":2022,"month":1,"date":1,"utc":true},{"year":2022,"month":9,"date":1,"utc":true},{"year":2023,"month":5,"date":1,"utc":true},{"year":2024,"month":1,"date":1,"utc":true}],
        "tickCount":100,"format":"%b-%y","labelAngle":270,"labelPadding":5,"labelFontSize":15,"labelOverlap":false,"labelFlush":false,
        "domain":true,"domainColor":"#d9d9d9","domainWidth":1.5,"ticks":true,"tickSize":5,"tickColor":"#d9d9d9",
        "title":"Source: University of Michigan, Haver Analytics, Apollo Chief Economist","titleFontSize":9.3,"titleX":-50,"titleY":106,"titleAnchor":"start","titleAlign":"left","titleBaseline":"top"}},
      "y":{"field":"v","type":"quantitative","scale":{"domain":[2,8],"nice":false,"zero":false},
       "axis":{"orient":"left","values":[2,3,4,5,6,7,8],"format":".1f","labelPadding":20,"title":"%","titleAngle":0,"titleX":-32,"titleY":-20,"titleAlign":"center","titleBaseline":"middle"}},
      "color":{"field":"k","type":"nominal","scale":{"domain":["t","m","b"],"range":["#117a5a","#3c5574","#6c9fd5"]},
       "legend":{"title":"5-10 year inflation expectations: Mean increase","titleOrient":"top","titleAnchor":"middle","titleFont":"Open Sans","titleFontSize":19,"titleFontWeight":"normal","titleColor":"#595959","titlePadding":20,"titleLimit":800,"legendX":147,"legendY":-23,"columnPadding":8,"labelExpr":"datum.value == 't' ? 'Top 33% household income' : (datum.value == 'm' ? 'Mid 33% household income' : 'Bottom 33% household income')"}}}},
    {"data":{"name":"p2"},"transform":[{"fold":["t","m","b"],"as":["k","v"]}],
     "mark":{"type":"line","opacity":0},
     "encoding":{
      "x":{"field":"d","type":"temporal","scale":{"type":"utc","domain":[{"year":2000,"month":1,"date":1,"utc":true},{"year":2024,"month":5,"date":10,"utc":true}]}},
      "y":{"field":"v","type":"quantitative","scale":{"domain":[2,8],"nice":false,"zero":false},
       "axis":{"orient":"right","values":[2,3,4,5,6,7,8],"format":"d","labelPadding":13,"title":"%","titleAngle":0,"titleX":1,"titleY":-20,"titleAlign":"center","titleBaseline":"middle"}},
      "detail":{"field":"k"}}}
   ],
   "resolve":{"axis":{"y":"independent"}}
  }]
 }]
}
]
}
